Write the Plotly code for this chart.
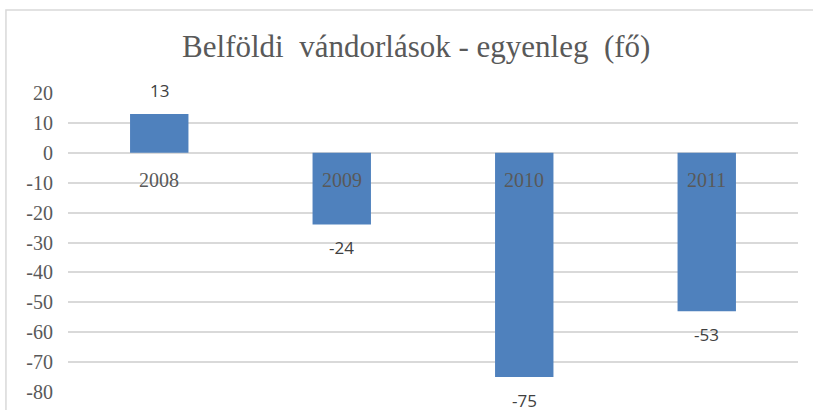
import plotly.graph_objects as go

years = ["2008", "2009", "2010", "2011"]
values = [13, -24, -75, -53]
y_tick_vals = [20, 10, 0, -10, -20, -30, -40, -50, -60, -70, -80]
y_tick_text = ["20", "10", "0", "-10", "-20", "-30", "-40", "-50", "-60", "-70", "-80"]
title_text = "Belföldi  vándorlások - egyenleg  (fő)"

fig = go.Figure()
fig.add_trace(go.Bar(
    x=years, y=values,
    marker=dict(color="#4F81BD", line=dict(color="#4F81BD", width=0)),
    cliponaxis=False,
    width=0.32,
))

# value labels (category index positions on the category axis)
for i, v in enumerate(values):
    fig.add_annotation(x=i, y=v, xref="x", yref="y", text=str(v), showarrow=False,
                       yanchor="middle", yshift=23 if v >= 0 else -23,
                       font=dict(family="Open Sans, Liberation Sans, sans-serif", size=17, color="#404040"))

# category labels sitting just under the zero line
for i, yr in enumerate(years):
    fig.add_annotation(x=i, y=0, xref="x", yref="y", text=yr, showarrow=False,
                       yanchor="middle", yshift=-27,
                       font=dict(family="Liberation Serif, serif", size=20, color="#595959"))

fig.add_shape(type="rect", xref="paper", yref="paper", x0=-0.085, x1=1.05, y0=-0.2, y1=1.278,
              line=dict(color="#D9D9D9", width=1.5), fillcolor="rgba(0,0,0,0)", layer="below")

fig.update_layout(
    width=813, height=410,
    margin=dict(l=68, r=15, t=93, b=18, autoexpand=False),
    paper_bgcolor="white", plot_bgcolor="white",
    title=dict(text=title_text, x=0.512, xanchor="center", y=0.887, yanchor="middle",
               font=dict(family="Liberation Serif, serif", size=31, color="#595959")),
    showlegend=False,
    xaxis=dict(type="category", categoryorder="array", categoryarray=years,
               range=[-0.5, len(years) - 0.5], showticklabels=False, showgrid=False,
               zeroline=False, showline=False, ticks="", automargin=False),
    yaxis=dict(range=[-80, 20], tickvals=y_tick_vals, ticktext=y_tick_text,
               showgrid=True, gridcolor="#D9D9D9", gridwidth=1.5,
               zeroline=True, zerolinecolor="#D9D9D9", zerolinewidth=1.5, showline=False,
               tickfont=dict(family="Liberation Serif, serif", size=20, color="#595959"),
               ticklabelstandoff=14, automargin=False),
)

fig.write_html("out.html", config={"displayModeBar": False},
               post_script="document.body.style.margin='0';")
